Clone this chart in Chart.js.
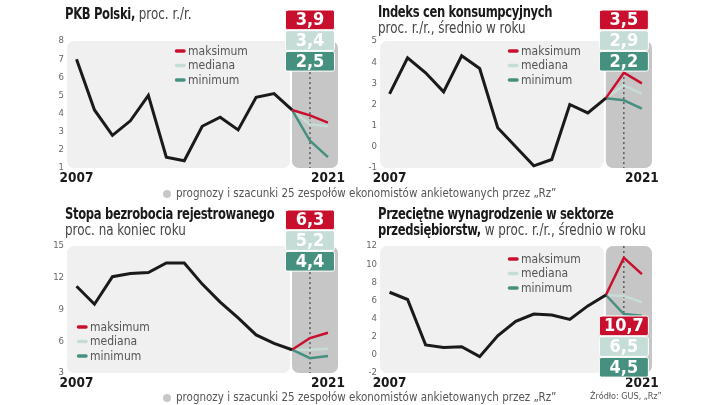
<!DOCTYPE html>
<html>
<head>
<meta charset="utf-8">
<script src="https://cdn.jsdelivr.net/npm/chart.js@4.4.0/dist/chart.umd.min.js"></script>
<style>
	body{margin:0;background:#fff;width:720px;height:405px;overflow:hidden;position:relative;
		font-family:"Liberation Sans Narrow","DejaVu Sans Condensed",sans-serif;color:#222;}
	.panel{position:absolute;}
	.title{position:absolute;font-size:15.5px;line-height:16px;white-space:nowrap;z-index:2;transform:scaleX(0.83);transform-origin:0 0;}
	.title b{font-weight:bold;color:#1a1a1a;letter-spacing:-0.4px;}
	.title span{font-weight:normal;color:#444;font-size:16px;}
	.note{position:absolute;font-size:11.5px;color:#555;white-space:nowrap;}
	.note i{display:inline-block;width:8px;height:8px;border-radius:50%;background:#c8c8c8;margin-right:5px;vertical-align:-0.5px;}
	.src{position:absolute;font-size:9px;color:#555;white-space:nowrap;}
</style>
</head>
<body>
<div class="panel" style="left:0;top:0;width:360px;height:190px"><canvas id="c1"></canvas></div>
<div class="panel" style="left:360px;top:0;width:360px;height:190px"><canvas id="c2"></canvas></div>
<div class="panel" style="left:0;top:200px;width:360px;height:200px"><canvas id="c3"></canvas></div>
<div class="panel" style="left:360px;top:200px;width:360px;height:200px"><canvas id="c4"></canvas></div>

<div class="title" style="left:65px;top:6px"><b>PKB Polski,</b><span> proc. r./r.</span></div>
<div class="title" style="left:378px;top:4px"><b>Indeks cen konsumpcyjnych</b><br><span>proc. r./r., średnio w roku</span></div>
<div class="title" style="left:65px;top:206px"><b>Stopa bezrobocia rejestrowanego</b><br><span>proc. na koniec roku</span></div>
<div class="title" style="left:378px;top:206px"><b>Przeciętne wynagrodzenie w sektorze</b><br><b>przedsiębiorstw,</b><span> w proc. r./r., średnio w roku</span></div>

<div class="note" style="left:163px;top:186px"><i></i>prognozy i szacunki 25 zespołów ekonomistów ankietowanych przez „Rz”</div>
<div class="note" style="left:163px;top:390px"><i></i>prognozy i szacunki 25 zespołów ekonomistów ankietowanych przez „Rz”</div>
<div class="src" style="left:590px;top:391px">Źródło: GUS, „Rz”</div>

<script>
// lata z danymi rzeczywistymi i lata prognoz
var years = [2007, 2008, 2009, 2010, 2011, 2012, 2013, 2014, 2015, 2016, 2017, 2018, 2019];
var forecastYears = [2020, 2021];
var xTicks = [2007, 2021];

// PKB
var gdp = [7.0, 4.2, 2.8, 3.6, 5.0, 1.6, 1.4, 3.3, 3.8, 3.1, 4.9, 5.1, 4.2];
var gdpMax = [3.9, 3.5];
var gdpMed = [3.4, 3.3];
var gdpMin = [2.5, 1.6];

// CPI
var cpi = [2.5, 4.2, 3.5, 2.6, 4.3, 3.7, 0.9, 0.0, -0.9, -0.6, 2.0, 1.6, 2.3];
var cpiMax = [3.5, 3.0];
var cpiMed = [2.9, 2.5];
var cpiMin = [2.2, 1.8];

// bezrobocie
var unemp = [11.2, 9.5, 12.1, 12.4, 12.5, 13.4, 13.4, 11.4, 9.7, 8.2, 6.6, 5.8, 5.2];
var unempMax = [6.3, 6.8];
var unempMed = [5.2, 5.3];
var unempMin = [4.4, 4.6];

// wynagrodzenia
var wages = [6.9, 6.1, 1.1, 0.8, 0.9, -0.2, 2.1, 3.7, 4.5, 4.4, 3.9, 5.4, 6.6];
var wagesMax = [10.7, 8.9];
var wagesMed = [6.5, 5.8];
var wagesMin = [4.5, 4.3];

var colors = {max: '#c8102e', med: '#c6ddd7', min: '#45907f', actual: '#1a1a1a'};
var labels = ['maksimum', 'mediana', 'minimum'];
var FONT = '"Liberation Sans Narrow","DejaVu Sans Condensed",sans-serif';

function pts(xs, ys){
	return ys.map((y, i) => ({x: xs[i], y: y}));
}
function fc(actual, vals){
	return pts([years[years.length - 1]].concat(forecastYears), [actual[actual.length - 1]].concat(vals));
}
function fmt(v){
	return v.toFixed(1).replace('.', ',');
}

var panelPlugin = {
	id: 'panel',
	beforeDatasetsDraw(chart, args, o){
		var ctx = chart.ctx, a = chart.chartArea, x = chart.scales.x;
		var split = x.getPixelForValue(years[years.length - 1]);
		ctx.save();
		ctx.fillStyle = '#f0f0f0';
		ctx.beginPath();
		ctx.roundRect(a.left, a.top, split - 2 - a.left, a.bottom - a.top, 7);
		ctx.fill();
		ctx.fillStyle = '#c6c6c6';
		ctx.beginPath();
		ctx.roundRect(split, a.top, a.right - split, a.bottom - a.top, 7);
		ctx.fill();
		// kropkowana linia
		var xd = x.getPixelForValue(forecastYears[0]);
		var y0, y1;
		if(o.boxTop < a.top){ y0 = o.boxTop + 3 * 20.7; y1 = a.bottom; }
		else { y0 = a.top; y1 = o.boxTop; }
		ctx.strokeStyle = '#222';
		ctx.lineWidth = 1;
		ctx.setLineDash([2, 3]);
		ctx.beginPath();
		ctx.moveTo(xd, y0);
		ctx.lineTo(xd, y1);
		ctx.stroke();
		ctx.restore();
	},
	afterDraw(chart, args, o){
		var ctx = chart.ctx, x = chart.scales.x;
		var xd = x.getPixelForValue(forecastYears[0]);
		ctx.save();
		// legenda
		var lc = [colors.max, colors.med, colors.min];
		ctx.font = '12px ' + FONT;
		ctx.textBaseline = 'middle';
		labels.forEach((l, i) => {
			var y = o.legY + i * 14.5;
			ctx.strokeStyle = lc[i];
			ctx.lineWidth = 3.5;
			ctx.lineCap = 'round';
			ctx.beginPath();
			ctx.moveTo(o.legX + 1.5, y);
			ctx.lineTo(o.legX + 9, y);
			ctx.stroke();
			ctx.fillStyle = '#555';
			ctx.fillText(l, o.legX + 13, y + 0.5);
		});
		// pola z wartościami
		var bc = [colors.max, colors.med, colors.min];
		var vals = [o.vals[0][0], o.vals[1][0], o.vals[2][0]];
		ctx.textAlign = 'center';
		ctx.font = 'bold 18px ' + FONT;
		vals.forEach((v, i) => {
			var y = o.boxTop + i * 20.7;
			ctx.fillStyle = bc[i];
			ctx.strokeStyle = '#fff';
			ctx.lineWidth = 1;
			ctx.beginPath();
			ctx.roundRect(xd - 24.5, y, 49, 19.7, 2);
			ctx.fill();
			ctx.stroke();
			ctx.fillStyle = '#fff';
			ctx.fillText(fmt(v), xd, y + 10.5);
		});
		ctx.restore();
	}
};

function makeChart(id, actual, fMax, fMed, fMin, yMin, yMax, step, pad, legX, legY, boxTop){
	return new Chart(document.getElementById(id), {
		type: 'line',
		data: {
			datasets: [
				{data: pts(years, actual), borderColor: colors.actual, borderWidth: 3, order: 0},
				{data: fc(actual, fMax), borderColor: colors.max, borderWidth: 2.5, order: 1},
				{data: fc(actual, fMin), borderColor: colors.min, borderWidth: 2.5, order: 2},
				{data: fc(actual, fMed), borderColor: colors.med, borderWidth: 2.5, order: 3},
			]
		},
		options: {
			responsive: false,
			animation: false,
			devicePixelRatio: 1,
			layout: {padding: pad},
			elements: {point: {radius: 0}, line: {tension: 0}},
			plugins: {
				legend: {display: false},
				tooltip: {enabled: false},
				panel: {legX: legX, legY: legY, boxTop: boxTop, vals: [fMax, fMed, fMin]}
			},
			scales: {
				x: {
					type: 'linear', min: 2006.47, max: 2021.56,
					grid: {display: false, drawTicks: false, tickLength: 0}, border: {display: false},
					afterBuildTicks: s => { s.ticks = xTicks.map(v => ({value: v})); },
					afterFit: s => { s.height = 22; },
					ticks: {
						maxRotation: 0, padding: 2, color: '#1a1a1a',
						font: {family: FONT, size: 13.5, weight: 'bold'},
						callback: v => String(v)
					}
				},
				y: {
					min: yMin, max: yMax,
					grid: {display: false, drawTicks: false, tickLength: 0}, border: {display: false},
					afterFit: s => { s.width = 20; },
					ticks: {
						stepSize: step, padding: 3, color: '#666',
						font: {family: FONT, size: 9.5}
					}
				}
			}
		},
		plugins: [panelPlugin]
	});
}

function sizeCanvas(id, w, h){
	var c = document.getElementById(id);
	c.width = w; c.height = h;
	c.style.width = w + 'px'; c.style.height = h + 'px';
}
sizeCanvas('c1', 360, 190);
sizeCanvas('c2', 360, 190);
sizeCanvas('c3', 360, 200);
sizeCanvas('c4', 360, 200);

makeChart('c1', gdp, gdpMax, gdpMed, gdpMin, 1, 8, 1, {left: 47, right: 22, top: 41, bottom: 0}, 175, 51, 10);
makeChart('c2', cpi, cpiMax, cpiMed, cpiMin, -1, 5, 1, {left: 0, right: 68, top: 41, bottom: 0}, 148, 51, 10);
makeChart('c3', unemp, unempMax, unempMed, unempMin, 3, 15, 3, {left: 47, right: 22, top: 46, bottom: 5}, 77, 127, 10);
makeChart('c4', wages, wagesMax, wagesMed, wagesMin, -2, 12, 2, {left: 0, right: 68, top: 46, bottom: 5}, 148, 59, 116);
</script>
</body>
</html>
